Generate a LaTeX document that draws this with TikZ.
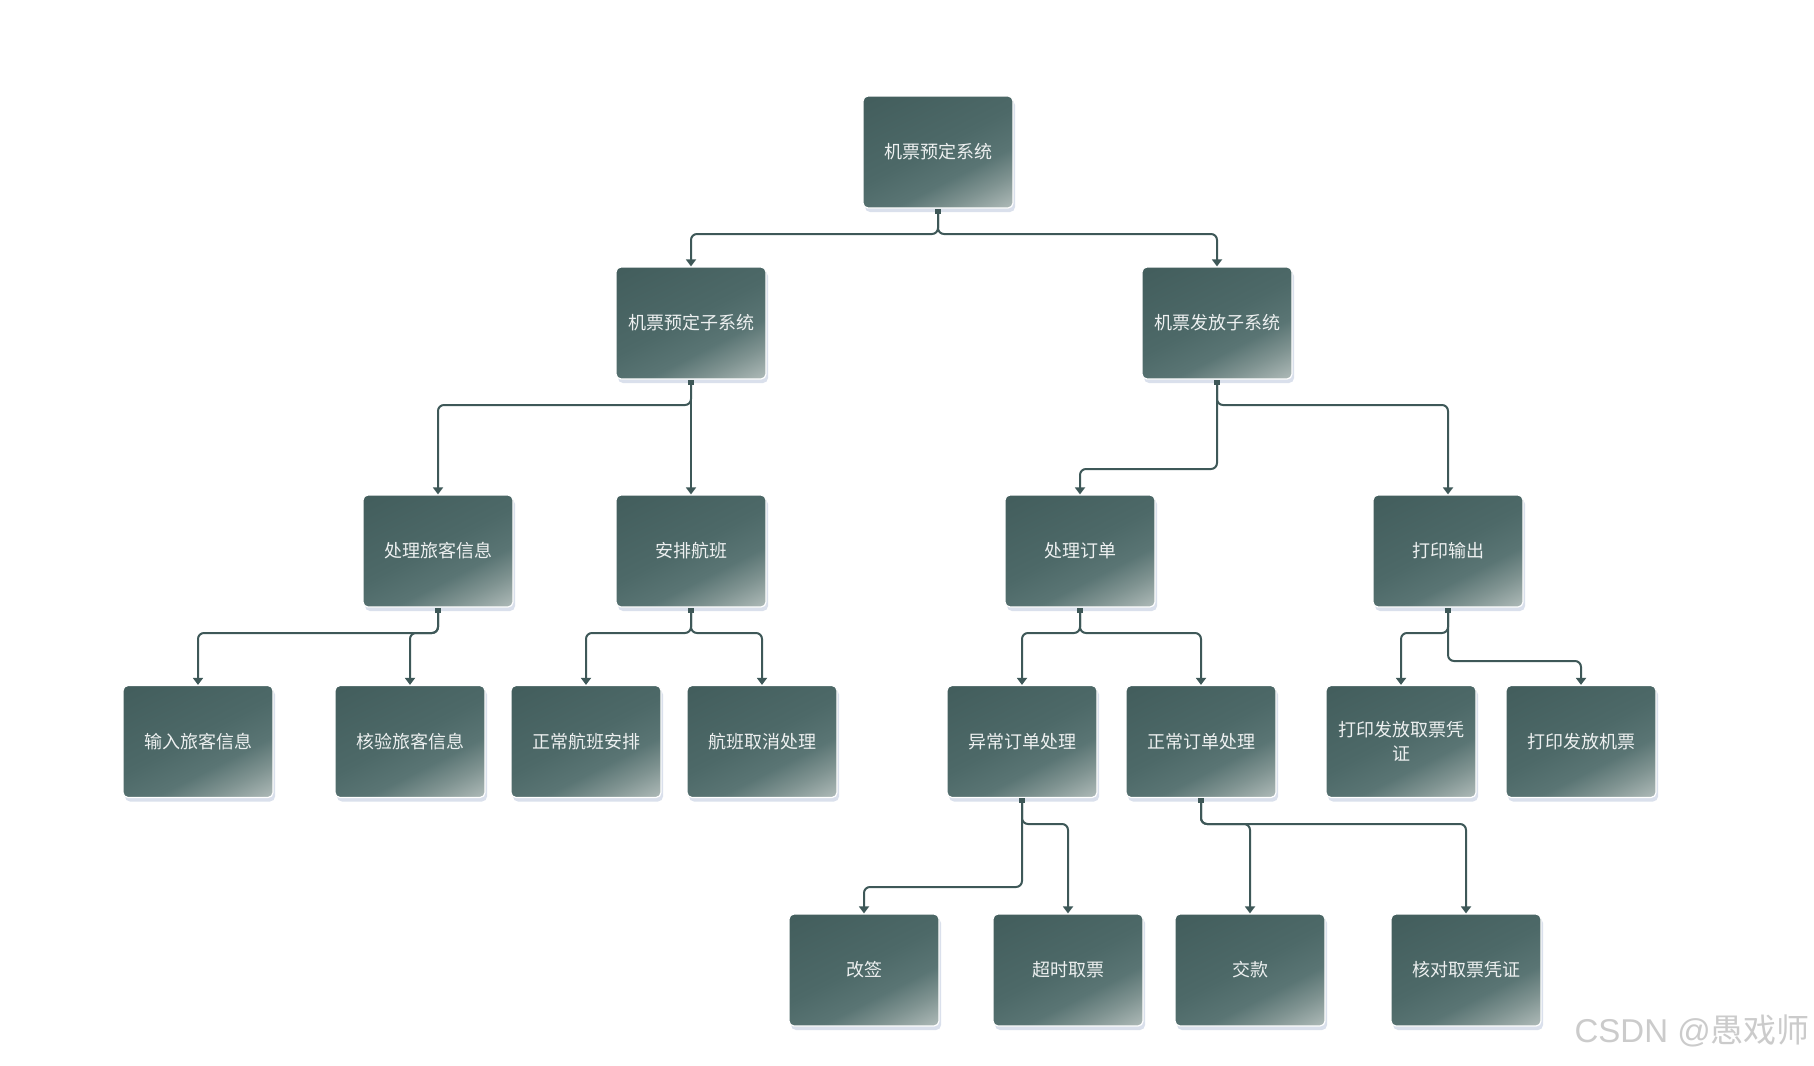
\documentclass[tikz,border=0pt]{standalone}
\usepackage{fontspec}
\newfontfamily\cjk{Noto Sans CJK SC}
\newfontfamily\latf{Liberation Sans}
\usetikzlibrary{arrows.meta,shadows}
\definecolor{dk}{HTML}{425D5C}
\definecolor{cen}{HTML}{4D6968}
\definecolor{mdk}{HTML}{5A7574}
\definecolor{md}{HTML}{7F9391}
\definecolor{lt}{HTML}{ADB9B7}
\definecolor{textc}{HTML}{EDF0F0}
\definecolor{linec}{HTML}{3E5858}
\definecolor{shc}{HTML}{D6DDEA}
\definecolor{wmc}{HTML}{CBCBCB}
\pgfdeclareverticalshading{boxsh}{100bp}{color(0bp)=(lt); color(17bp)=(lt); color(28bp)=(md); color(38bp)=(mdk); color(52bp)=(cen); color(84bp)=(dk); color(100bp)=(dk)}
\tikzset{
  box/.style={shade, shading=boxsh, shading angle=27, draw=white, line width=1.2pt,
    rounded corners=5pt, minimum width=150pt, minimum height=112pt, inner sep=2pt,
    text=textc, font=\cjk\fontsize{18}{24}\selectfont, align=center,
    drop shadow={shadow xshift=2pt, shadow yshift=-4pt, fill=shc, opacity=0.9}},
  edge/.style={draw=linec, line width=2pt, rounded corners=6pt,
    {Square[length=5pt,width=6pt]}-{Triangle[width=10pt,length=7pt]}},
}
\begin{document}
\begin{tikzpicture}[x=1pt,y=1pt]
\fill[white] (0,0) rectangle (1814,-1065);
\useasboundingbox (0,0) rectangle (1814,-1065);
% levels for horizontal runs
\coordinate (y0) at (0,-234);
\coordinate (y1) at (0,-405);
\coordinate (y1b) at (0,-469);
\coordinate (y2) at (0,-633);
\coordinate (y2b) at (0,-661);
\coordinate (y3a) at (0,-824);
\coordinate (y3b) at (0,-887);
% nodes
\node[box] (root) at (938,-152) {机票预定系统};
\node[box] (s1) at (691,-323) {机票预定子系统};
\node[box] (s2) at (1217,-323) {机票发放子系统};
\node[box] (a1) at (438,-551) {处理旅客信息};
\node[box] (a2) at (691,-551) {安排航班};
\node[box] (a3) at (1080,-551) {处理订单};
\node[box] (a4) at (1448,-551) {打印输出};
\node[box] (b1) at (198,-741.5) {输入旅客信息};
\node[box] (b2) at (410,-741.5) {核验旅客信息};
\node[box] (b3) at (586,-741.5) {正常航班安排};
\node[box] (b4) at (762,-741.5) {航班取消处理};
\node[box] (b5) at (1022,-741.5) {异常订单处理};
\node[box] (b6) at (1201,-741.5) {正常订单处理};
\node[box] (b7) at (1401,-741.5) {打印发放取票凭\\证};
\node[box] (b8) at (1581,-741.5) {打印发放机票};
\node[box] (c1) at (864,-970) {改签};
\node[box] (c2) at (1068,-970) {超时取票};
\node[box] (c3) at (1250,-970) {交款};
\node[box] (c4) at (1466,-970) {核对取票凭证};
% edges
\draw[edge] (root.south) -- (root.south |- y0) -| (s1.north);
\draw[edge] (root.south) -- (root.south |- y0) -| (s2.north);
\draw[edge] (s1.south) -- (s1.south |- y1) -| (a1.north);
\draw[edge] (s1.south) -- (a2.north);
\draw[edge] (s2.south) -- (s2.south |- y1b) -| (a3.north);
\draw[edge] (s2.south) -- (s2.south |- y1) -| (a4.north);
\draw[edge] (a1.south) -- (a1.south |- y2) -| (b1.north);
\draw[edge] (a1.south) -- (a1.south |- y2) -| (b2.north);
\draw[edge] (a2.south) -- (a2.south |- y2) -| (b3.north);
\draw[edge] (a2.south) -- (a2.south |- y2) -| (b4.north);
\draw[edge] (a3.south) -- (a3.south |- y2) -| (b5.north);
\draw[edge] (a3.south) -- (a3.south |- y2) -| (b6.north);
\draw[edge] (a4.south) -- (a4.south |- y2) -| (b7.north);
\draw[edge] (a4.south) -- (a4.south |- y2b) -| (b8.north);
\draw[edge] (b5.south) -- (b5.south |- y3b) -| (c1.north);
\draw[edge] (b5.south) -- (b5.south |- y3a) -| (c2.north);
\draw[edge] (b6.south) -- (b6.south |- y3a) -| (c3.north);
\draw[edge] (b6.south) -- (b6.south |- y3a) -| (c4.north);
% watermark
\node[anchor=east, text=wmc, inner sep=0pt, font=\fontsize{33}{38}\selectfont] (wm) at (1810,-1031) {{\latf CSDN @}{\cjk 愚戏师}};
\end{tikzpicture}
\end{document}
